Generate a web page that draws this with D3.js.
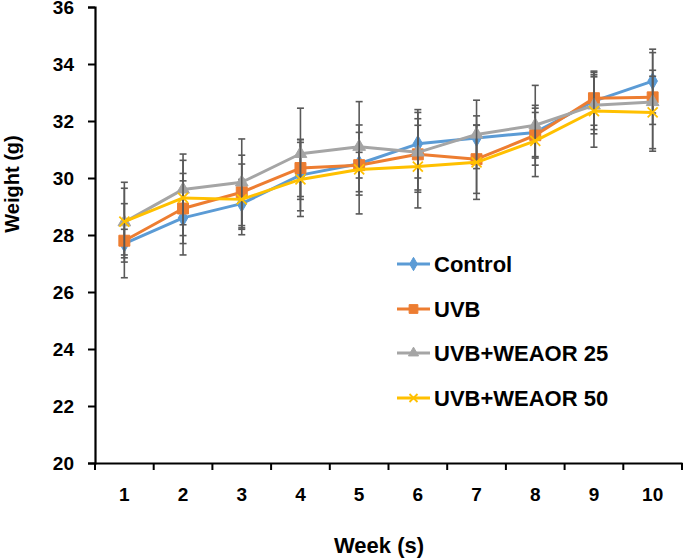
<!DOCTYPE html>
<html><head><meta charset="utf-8">
<script src="https://cdnjs.cloudflare.com/ajax/libs/d3/7.8.5/d3.min.js"></script>
<style>body{margin:0;background:#fff}svg{display:block}text{font-family:"Liberation Sans",Arial,sans-serif;font-weight:bold}</style>
</head><body><svg id="c" width="685" height="558"></svg>
<script>
const weeks = ["1","2","3","4","5","6","7","8","9","10"];
const yTicks = [20,22,24,26,28,30,32,34,36];
const seriesNames = ["Control","UVB","UVB+WEAOR 25","UVB+WEAOR 50"];
const control = [27.7,28.6,29.1,30.1,30.5,31.2,31.4,31.6,32.7,33.4];
const uvb     = [27.8,28.93,29.5,30.35,30.45,30.83,30.66,31.5,32.8,32.83];
const weaor25 = [28.45,29.6,29.85,30.85,31.1,30.9,31.53,31.85,32.55,32.67];
const weaor50 = [28.47,29.3,29.25,29.95,30.3,30.4,30.55,31.3,32.35,32.3];
const errControl = [0.5,1.3,0.85,1.25,1.1,1.2,0.78,0.85,1.0,1.12];
const errUvb     = [1.3,1.23,1.3,1.0,0.45,1.25,1.2,0.8,0.95,0.95];
const err25      = [1.4,1.24,1.52,1.6,1.58,1.4,1.2,1.4,1.0,1.73];
const err50      = [1.17,1.32,1.24,1.3,1.56,1.45,1.3,1.25,1.27,1.27];
const colors = ["#5B9BD5","#ED7D31","#A5A5A5","#FFC000"];
const markers = ["diamond","square","triangle","x"];

const values = [control,uvb,weaor25,weaor50];
const errors = [errControl,errUvb,err25,err50];

const svg = d3.select("#c");
const x = d3.scaleBand().domain(weeks).range([95,682]).padding(0);
const y = d3.scaleLinear().domain([20,36]).range([463,7]);
const cx = w => x(w) + x.bandwidth()/2;

// axes
const yAx = svg.append("g").attr("transform","translate(95,0)")
  .call(d3.axisLeft(y).tickValues(yTicks).tickSize(7).tickPadding(14).tickFormat(d3.format("d")));
yAx.select(".domain").attr("stroke","#000").attr("stroke-width",2.2);
yAx.selectAll(".tick line").attr("stroke","#000").attr("stroke-width",2);
yAx.selectAll(".tick text").attr("font-size",19).attr("fill","#000").attr("font-family","Liberation Sans, Arial, sans-serif").attr("font-weight","bold");

const xAx = svg.append("g").attr("transform","translate(0,463)")
  .call(d3.axisBottom(x).tickSize(0).tickPadding(25));
xAx.select(".domain").attr("stroke","#000").attr("stroke-width",2.2);
xAx.selectAll(".tick text").attr("font-size",19).attr("fill","#000").attr("font-family","Liberation Sans, Arial, sans-serif").attr("font-weight","bold");
// boundary tick marks between categories
const bounds = weeks.map(w => x(w)).concat([x.range()[1]]);
svg.append("g").selectAll("line").data(bounds).join("line")
  .attr("x1",d=>d).attr("x2",d=>d).attr("y1",463).attr("y2",470)
  .attr("stroke","#000").attr("stroke-width",2);

// axis titles
svg.append("text").attr("x",379).attr("y",553).attr("text-anchor","middle")
  .attr("font-size",22).text("Week (s)");
svg.append("text").attr("transform","translate(19,184) rotate(-90)").attr("text-anchor","middle")
  .attr("font-size",20).text("Weight (g)");

function markerPath(type, size){
  if(type==="diamond") return d3.symbol().type(d3.symbolDiamond).size(size)();
  if(type==="square") return d3.symbol().type(d3.symbolSquare).size(size)();
  if(type==="triangle") return d3.symbol().type(d3.symbolTriangle).size(size)();
  return null;
}
function drawMarker(g, type, color, px, py, scale){
  const s = scale||1;
  if(type==="x"){
    const r = 5*s;
    g.append("path").attr("d",`M${px-r},${py-r}L${px+r},${py+r}M${px-r},${py+r}L${px+r},${py-r}`)
      .attr("stroke",color).attr("stroke-width",1.8).attr("fill","none");
  } else {
    const sz = type==="square" ? 120*s*s : type==="diamond" ? 80*s*s : 70*s*s;
    g.append("path").attr("d",markerPath(type,sz)).attr("transform",`translate(${px},${py})`)
      .attr("fill",color).attr("stroke",color);
  }
}

const line = d3.line().x((d,i)=>cx(weeks[i])).y(d=>y(d));

values.forEach((vals,si)=>{
  const g = svg.append("g");
  // error bars
  const eb = g.append("g").attr("stroke","#595959").attr("stroke-width",1.6);
  vals.forEach((v,i)=>{
    const e = errors[si][i], px = cx(weeks[i]);
    eb.append("line").attr("x1",px).attr("x2",px).attr("y1",y(v+e)).attr("y2",y(v-e));
    eb.append("line").attr("x1",px-3.5).attr("x2",px+3.5).attr("y1",y(v+e)).attr("y2",y(v+e));
    eb.append("line").attr("x1",px-3.5).attr("x2",px+3.5).attr("y1",y(v-e)).attr("y2",y(v-e));
  });
  g.append("path").datum(vals).attr("d",line).attr("fill","none")
    .attr("stroke",colors[si]).attr("stroke-width",3).attr("stroke-linejoin","round");
  vals.forEach((v,i)=> drawMarker(g, markers[si], colors[si], cx(weeks[i]), y(v), 1));
});

// legend
const legY = [264,309,353,398];
const leg = svg.append("g");
seriesNames.forEach((n,i)=>{
  leg.append("line").attr("x1",397).attr("x2",430).attr("y1",legY[i]).attr("y2",legY[i])
    .attr("stroke",colors[i]).attr("stroke-width",3);
  drawMarker(leg, markers[i], colors[i], 413.5, legY[i], 0.8);
  leg.append("text").attr("x",434).attr("y",legY[i]).attr("dy","0.36em")
    .attr("font-size",22).attr("fill","#000").text(n);
});
</script></body></html>
